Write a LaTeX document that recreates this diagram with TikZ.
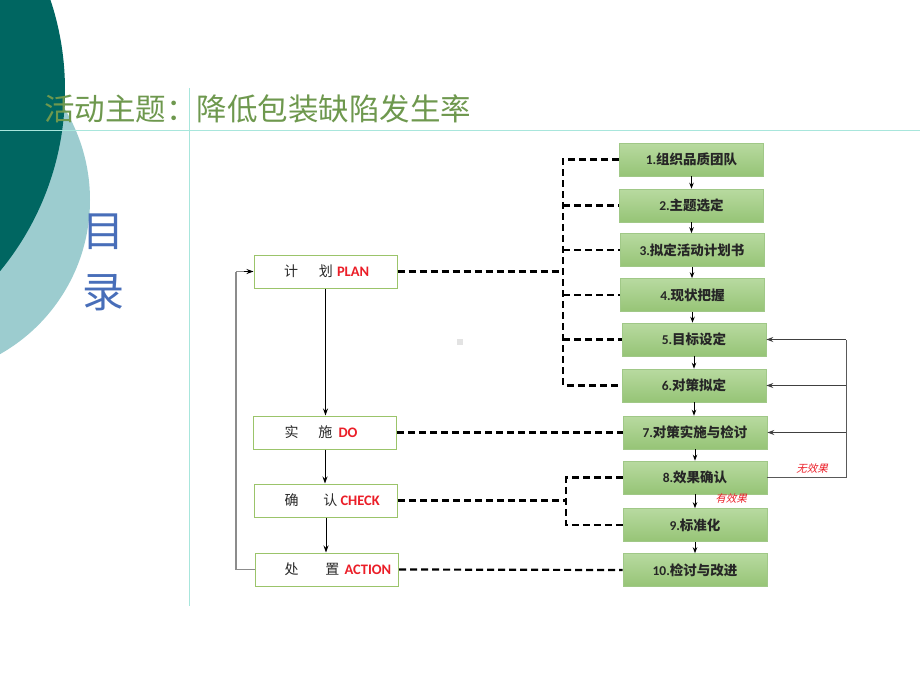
\documentclass[tikz,border=0pt]{standalone}
\usepackage{fontspec}
\usetikzlibrary{arrows.meta,calc}
\newfontfamily\cjk{Noto Sans CJK SC}
\newfontfamily\cjkit[FakeSlant=0.25]{Noto Sans CJK SC}
\newfontfamily\lat{Carlito}
\definecolor{darkteal}{RGB}{0,102,97}
\definecolor{lightteal}{RGB}{156,204,207}
\definecolor{rulecyan}{RGB}{168,230,220}
\definecolor{titlegreen}{RGB}{110,152,78}
\definecolor{mulublue}{RGB}{72,110,185}
\definecolor{boxborder}{RGB}{155,196,106}
\definecolor{stepborder}{RGB}{160,200,135}
\definecolor{steptop}{RGB}{184,218,160}
\definecolor{stepbot}{RGB}{150,196,118}
\definecolor{labred}{RGB}{235,30,40}
\definecolor{txtgray}{RGB}{40,40,40}
\tikzset{
  pdcabox/.style={draw=boxborder, line width=1pt, fill=white, minimum width=143pt, minimum height=33pt, text width=143pt, inner xsep=0pt, align=left, font=\cjk\fontsize{14}{15}\selectfont, text=txtgray},
  stepbox/.style={draw=stepborder, line width=0.6pt, top color=steptop, bottom color=stepbot, minimum width=144pt, minimum height=33pt, inner sep=0pt, font=\fontsize{13.5}{15}\selectfont, text=black!85},
  dashline/.style={draw=black, line width=2.2pt, dash pattern=on 7pt off 4pt},
  solidarrow/.style={draw=black, line width=1pt, -{Stealth[length=7pt,width=5pt]}},
  smallarrow/.style={draw=black, line width=1pt, -{Stealth[length=6pt,width=4.5pt]}},
  graybk/.style={draw=black!45, line width=1.3pt},
  fbline/.style={draw=black!65, line width=0.9pt},
  fbarrow/.style={draw=black!75, line width=0.9pt, -{Stealth[length=7pt,width=5pt]}},
  slantlab/.style={text=labred, font=\cjkit\fontsize{10.5}{12}\selectfont, inner sep=0pt}
}
\newcommand{\stp}[2]{{\lat\bfseries #1}{\cjk\bfseries #2}}
\newcommand{\redtag}[1]{{\color{labred}\lat\bfseries\fontsize{14.5}{16}\selectfont #1}}
\begin{document}
\begin{tikzpicture}[x=1pt,y=-1pt]
\useasboundingbox (0,0) rectangle (920,690);
% background shapes
\fill[lightteal] (-87,200) circle (177);
\fill[darkteal] (-220,90) circle (285);
\draw[rulecyan, line width=1pt] (0,130) -- (920,130);
\draw[rulecyan, line width=1pt] (189,88) -- (189,606);
% title
\node[anchor=west, inner sep=0pt, text=titlegreen, font=\cjk\fontsize{30.5}{32}\selectfont] (title) at (44,109) {活动主题：降低包装缺陷发生率};
\node[inner sep=0pt, text=mulublue, font=\cjk\fontsize{42}{44}\selectfont] (mu) at (103,232) {目};
\node[inner sep=0pt, text=mulublue, font=\cjk\fontsize{42}{44}\selectfont] (lu) at (103,293) {录};
\node[fill=black!11, minimum size=6pt, inner sep=0pt] (dot) at (460,341.5) {};
% PDCA boxes
\node[pdcabox] (plan) at (325.5,271.5) {\hspace*{30pt}计\hspace{21pt}划\hspace{4pt}\redtag{PLAN}};
\node[pdcabox] (do) at (325,432.5) {\hspace*{31pt}实\hspace{20pt}施\hspace{6pt}\redtag{DO}};
\node[pdcabox] (check) at (326,500.5) {\hspace*{30pt}确\hspace{25pt}认\hspace{3pt}\redtag{CHECK}};
\node[pdcabox] (action) at (327,569.5) {\hspace*{29pt}处\hspace{27pt}置\hspace{5pt}\redtag{ACTION}};
% step boxes
\node[stepbox] (b1) at (691.5,159.5) {\stp{1.}{组织品质团队}};
\node[stepbox] (b2) at (691.5,205.5) {\stp{2.}{主题选定}};
\node[stepbox] (b3) at (692,250) {\stp{3.}{拟定活动计划书}};
\node[stepbox] (b4) at (692.5,295) {\stp{4.}{现状把握}};
\node[stepbox] (b5) at (694,339.5) {\stp{5.}{目标设定}};
\node[stepbox] (b6) at (694,385.5) {\stp{6.}{对策拟定}};
\node[stepbox] (b7) at (695,432.5) {\stp{7.}{对策实施与检讨}};
\node[stepbox] (b8) at (695,477.5) {\stp{8.}{效果确认}};
\node[stepbox] (b9) at (695,525) {\stp{9.}{标准化}};
\node[stepbox] (b10) at (695,570) {\stp{10.}{检讨与改进}};
% step arrows
\foreach \a/\b in {b1/b2,b2/b3,b3/b4,b4/b5,b5/b6,b6/b7,b7/b8,b8/b9,b9/b10}
  \draw[smallarrow] (\a.south) -- (\a.south |- \b.north);
% PDCA arrows
\draw[solidarrow] (plan.south) -- (plan.south |- do.north);
\draw[solidarrow] (do.south) -- (do.south |- check.north);
\draw[solidarrow] (check.south) -- (check.south |- action.north);
% left feedback
\coordinate (lb) at (236,569.5);
\draw[graybk] (action.west) -- (lb) -- (lb |- plan.west);
\draw[graybk] (lb |- plan.west) -- ($(plan.west)+(-8,0)$);
\draw[solidarrow, line width=0.8pt] ($(plan.west)+(-10,0)$) -- (plan.west);
% dashed links
\coordinate (pj) at (563,271.5);
\draw[dashline] (plan.east) -- (pj);
\draw[dashline] (b1.west) -| (pj |- b6.west) -- (b6.west);
\foreach \b in {b2,b3,b4,b5}
  \draw[dashline] (pj |- \b.west) -- (\b.west);
\draw[dashline] (do.east) -- (b7.west);
\coordinate (cj) at (566,500.5);
\draw[dashline] (check.east) -- (cj);
\draw[dashline] (b8.west) -| (cj |- b9.west) -- (b9.west);
\draw[dashline] (action.east) -- (b10.west);
% right feedback
\coordinate (fb) at (846,477.5);
\draw[fbline] (b8.east) -- (fb) -- (fb |- b5.east);
\draw[fbarrow] (fb |- b5.east) -- (b5.east);
\draw[fbarrow] (fb |- b6.east) -- (b6.east);
\draw[fbarrow] (fb |- b7.east) -- (b7.east);
\node[slantlab] (nofx) at (812,469) {无效果};
\node[slantlab] (yesfx) at (731,499) {有效果};
\end{tikzpicture}
\end{document}
